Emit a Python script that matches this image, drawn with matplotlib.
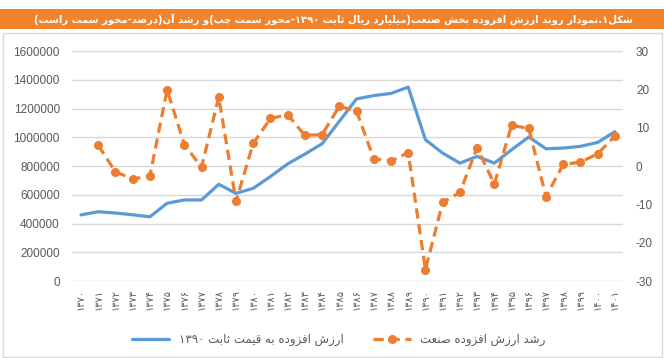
import matplotlib
matplotlib.use("Agg")
import matplotlib.pyplot as plt
from matplotlib.patches import Rectangle

# Daten
jahre = list(range(1370, 1402))
arzesh = [460000, 482000, 473000, 461000, 447000, 541000, 564000, 564000, 673000, 610000,
          645000, 727000, 815000, 883000, 955000, 1111000, 1267000, 1290000, 1305000, 1349000,
          983000, 890000, 820000, 867000, 820000, 913000, 1002000, 920000, 925000, 937000,
          964000, 1039000]
roshd = [None, 5.4, -1.5, -3.4, -2.6, 19.9, 5.6, -0.3, 18.0, -9.2,
         5.9, 12.4, 13.4, 8.0, 8.2, 15.6, 14.3, 1.9, 1.3, 3.5,
         -27.0, -9.5, -6.9, 4.8, -4.7, 10.6, 9.8, -8.0, 0.4, 1.0,
         3.2, 7.8]
left_ticks = [0, 200000, 400000, 600000, 800000, 1000000, 1200000, 1400000, 1600000]
right_ticks = [-30, -20, -10, 0, 10, 20, 30]

titel = "شکل۱.نمودار روند ارزش افزوده بخش صنعت(میلیارد ریال ثابت ۱۳۹۰-محور سمت چپ)و رشد آن(درصد-محور سمت راست)"
label_blau = "ارزش افزوده به قیمت ثابت ۱۳۹۰"
label_orange = "رشد ارزش افزوده صنعت"

# einfache Formung fuer persische Schrift (isoliert, final, initial, medial)
FORMS = {
    'ا': ('\uFE8D', '\uFE8E', None, None),
    'آ': ('\uFE81', '\uFE82', None, None),
    'ب': ('\uFE8F', '\uFE90', '\uFE91', '\uFE92'),
    'پ': ('\uFB56', '\uFB57', '\uFB58', '\uFB59'),
    'ت': ('\uFE95', '\uFE96', '\uFE97', '\uFE98'),
    'ث': ('\uFE99', '\uFE9A', '\uFE9B', '\uFE9C'),
    'چ': ('\uFB7A', '\uFB7B', '\uFB7C', '\uFB7D'),
    'ح': ('\uFEA1', '\uFEA2', '\uFEA3', '\uFEA4'),
    'خ': ('\uFEA5', '\uFEA6', '\uFEA7', '\uFEA8'),
    'د': ('\uFEA9', '\uFEAA', None, None),
    'ر': ('\uFEAD', '\uFEAE', None, None),
    'ز': ('\uFEAF', '\uFEB0', None, None),
    'س': ('\uFEB1', '\uFEB2', '\uFEB3', '\uFEB4'),
    'ش': ('\uFEB5', '\uFEB6', '\uFEB7', '\uFEB8'),
    'ص': ('\uFEB9', '\uFEBA', '\uFEBB', '\uFEBC'),
    'ع': ('\uFEC9', '\uFECA', '\uFECB', '\uFECC'),
    'ف': ('\uFED1', '\uFED2', '\uFED3', '\uFED4'),
    'ق': ('\uFED5', '\uFED6', '\uFED7', '\uFED8'),
    'ک': ('\uFB8E', '\uFB8F', '\uFB90', '\uFB91'),
    'ل': ('\uFEDD', '\uFEDE', '\uFEDF', '\uFEE0'),
    'م': ('\uFEE1', '\uFEE2', '\uFEE3', '\uFEE4'),
    'ن': ('\uFEE5', '\uFEE6', '\uFEE7', '\uFEE8'),
    'ه': ('\uFEE9', '\uFEEA', '\uFEEB', '\uFEEC'),
    'و': ('\uFEED', '\uFEEE', None, None),
    'ی': ('\uFBFC', '\uFBFD', '\uFBFE', '\uFBFF'),
}
MIRROR = {'(': ')', ')': '('}
DIGITS = set('۰۱۲۳۴۵۶۷۸۹0123456789')


def shape(s):
    out = []
    for i, c in enumerate(s):
        if c not in FORMS:
            out.append(c)
            continue
        prev = s[i - 1] if i > 0 else ''
        nxt = s[i + 1] if i + 1 < len(s) else ''
        p = prev in FORMS and FORMS[prev][2] is not None
        n = nxt in FORMS
        iso, fin, ini, med = FORMS[c]
        if p and n and med:
            out.append(med)
        elif p:
            out.append(fin)
        elif n and ini:
            out.append(ini)
        else:
            out.append(iso)
    return ''.join(out)


def fa(s):
    s = shape(s)
    runs = []
    for c in s:
        ltr = c in DIGITS
        if runs and runs[-1][0] == ltr:
            runs[-1][1].append(c)
        else:
            runs.append([ltr, [c]])
    res = ''
    for ltr, chars in reversed(runs):
        if ltr:
            res += ''.join(chars)
        else:
            res += ''.join(MIRROR.get(c, c) for c in reversed(chars))
    return res


def fa_digits(n):
    return ''.join('۰۱۲۳۴۵۶۷۸۹'[int(d)] for d in str(n))


plt.rcParams['font.family'] = ['DejaVu Sans']
grau = '#595959'

fig = plt.figure(figsize=(6.64, 3.58), dpi=100)
# Titelbalken
fig.patches.append(Rectangle((0, 1 - 29 / 358), 1, 20 / 358, transform=fig.transFigure,
                             facecolor='#F2832A', edgecolor='none', zorder=0))
fig.text(0.502, 1 - 19.5 / 358, fa(titel), color='white', fontsize=7.2, fontweight='bold',
         ha='center', va='center')
# Rahmen
fig.patches.append(Rectangle((3 / 664, 1 / 358), 659 / 664, 324 / 358, transform=fig.transFigure,
                             facecolor='none', edgecolor='#d9d9d9', linewidth=1))

ax = fig.add_axes([0.109, 0.215, 0.83, 0.6425])
x = list(range(len(jahre)))
l1, = ax.plot(x, arzesh, color='#5B9BD5', linewidth=2.3, solid_capstyle='round', zorder=3)
ax.set_ylim(0, 1600000)
ax.set_yticks(left_ticks)
ax.set_yticklabels([str(v) for v in left_ticks], fontfamily='Liberation Sans')
ax.set_xlim(-0.5, len(jahre) - 0.5)
ax.set_xticks(x)
ax.set_xticklabels([fa_digits(j) for j in jahre], rotation=90, fontsize=7, color=grau)
ax.grid(axis='y', color='#d9d9d9', linewidth=1)
ax.set_axisbelow(True)
for sp in ax.spines.values():
    sp.set_visible(False)
ax.tick_params(axis='both', length=0)
ax.tick_params(axis='y', labelsize=8.5, labelcolor=grau, pad=9)
ax.tick_params(axis='x', pad=6)

ax2 = ax.twinx()
rx = [xi for xi, r in zip(x, roshd) if r is not None]
ry = [r for r in roshd if r is not None]
l2, = ax2.plot(rx, ry, color='#ED7D31', linewidth=2.3, dashes=(3.2, 1.8), marker='o',
               markersize=5.5, zorder=4)
ax2.set_ylim(-30, 30)
ax2.set_yticks(right_ticks)
ax2.set_yticklabels([str(v) for v in right_ticks], fontfamily='Liberation Sans')
for sp in ax2.spines.values():
    sp.set_visible(False)
ax2.tick_params(axis='y', length=0, labelsize=8.5, labelcolor=grau, pad=9)

fig.legend([l1, l2], [fa(label_blau), fa(label_orange)], loc='center',
           bbox_to_anchor=(0.51, 0.052), ncol=2, frameon=False, fontsize=8.5,
           handlelength=3.2, columnspacing=2.5, labelcolor=grau)

fig.savefig('out.png', dpi=100)
